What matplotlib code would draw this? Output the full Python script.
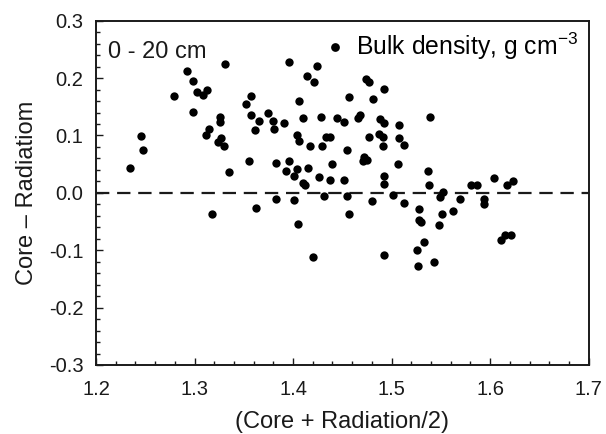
import matplotlib
matplotlib.use("Agg")
import matplotlib.pyplot as plt
from matplotlib.ticker import MultipleLocator, FormatStrFormatter

plt.rcParams['font.family'] = ['Liberation Sans', 'DejaVu Sans']
plt.rcParams['mathtext.fontset'] = 'custom'
plt.rcParams['mathtext.rm'] = 'Liberation Sans'
plt.rcParams['mathtext.it'] = 'Liberation Sans:italic'
plt.rcParams['axes.unicode_minus'] = False

# Mean of core and radiation bulk density (x) and their difference (y)
mean_density = [
    1.2346, 1.2455, 1.2476, 1.2791, 1.2927, 1.2981, 1.3025, 1.3087, 1.3130, 1.2981,
    1.3307, 1.3260, 1.3256, 1.3148, 1.3120, 1.3270, 1.3235, 1.3303, 1.3347, 1.3551,
    1.3527, 1.3578, 1.3575, 1.3653, 1.3612, 1.3744, 1.3799, 1.3802, 1.3911, 1.3958,
    1.4060, 1.4101, 1.4040, 1.4064, 1.4169, 1.4146, 1.4213, 1.4243, 1.4281, 1.4298,
    1.4339, 1.4373, 1.4444, 1.4518, 1.4546, 1.4569, 1.3823, 1.3958, 1.3925, 1.4044,
    1.4009, 1.4152, 1.4105, 1.4125, 1.4261, 1.4390, 1.4376, 1.4515, 1.4312, 1.4543,
    1.3823, 1.4012, 1.3178, 1.3622, 1.4054, 1.4200, 1.4563, 1.4739, 1.4767, 1.4926,
    1.4808, 1.4655, 1.4675, 1.4885, 1.4926, 1.5078, 1.5391, 1.4773, 1.4875, 1.4909,
    1.4909, 1.5078, 1.5129, 1.4706, 1.4722, 1.4749, 1.5062, 1.4919, 1.4919, 1.5367,
    1.5377, 1.5809, 1.5870, 1.6040, 1.6175, 1.6233, 1.4800, 1.5017, 1.5129, 1.4926,
    1.5282, 1.5276, 1.5299, 1.5476, 1.5513, 1.5622, 1.5333, 1.5259, 1.5266, 1.5435,
    1.5526, 1.5496, 1.5689, 1.5938, 1.5938, 1.6114, 1.6148, 1.6209,
]
diff_density = [
    0.043, 0.0997, 0.075, 0.168, 0.212, 0.195, 0.175, 0.170, 0.179, 0.141,
    0.224, 0.133, 0.123, 0.112, 0.101, 0.095, 0.088, 0.082, 0.037, 0.055,
    0.154, 0.168, 0.135, 0.126, 0.109, 0.140, 0.126, 0.112, 0.121, 0.228,
    0.160, 0.130, 0.101, 0.091, 0.081, 0.203, 0.193, 0.221, 0.132, 0.081,
    0.098, 0.097, 0.130, 0.123, 0.074, 0.167, 0.052, 0.055, 0.038, 0.041,
    0.029, 0.044, 0.017, 0.013, 0.027, 0.051, 0.023, 0.023, -0.005, -0.005,
    -0.0105, -0.012, -0.036, -0.027, -0.054, -0.111, -0.036, 0.198, 0.193, 0.181,
    0.163, 0.130, 0.136, 0.128, 0.121, 0.119, 0.133, 0.097, 0.103, 0.097,
    0.081, 0.095, 0.084, 0.056, 0.062, 0.058, 0.051, 0.029, 0.016, 0.038,
    0.014, 0.0145, 0.0145, 0.0255, 0.013, 0.0215, -0.015, -0.003, -0.0175, -0.108,
    -0.029, -0.047, -0.051, -0.056, -0.037, -0.032, -0.085, -0.100, -0.127, -0.121,
    0.002, -0.008, -0.0105, -0.0105, -0.019, -0.083, -0.073, -0.073,
]

x_ticks = [1.2, 1.3, 1.4, 1.5, 1.6, 1.7]
y_ticks = [-0.3, -0.2, -0.1, 0.0, 0.1, 0.2, 0.3]
series_label = 'Bulk density, g cm$^{-3}$'
depth_label = '0 - 20 cm'

fig = plt.figure(figsize=(6.06, 4.34), dpi=100)
ax = fig.add_axes([96/606, 1-365/434, (588.7-96)/606, (365-20.7)/434])

ax.axhline(0, color='#1a1a1a', lw=1.6, dashes=(6, 3.5), zorder=1)
ax.plot(mean_density, diff_density, 'o', color='black', ms=6.0, mew=0,
        label=series_label, zorder=3)

ax.set_xlim(x_ticks[0], x_ticks[-1])
ax.set_ylim(y_ticks[0], y_ticks[-1])
ax.set_xticks(x_ticks)
ax.set_yticks(y_ticks)
ax.xaxis.set_minor_locator(MultipleLocator(0.02))
ax.yaxis.set_minor_locator(MultipleLocator(0.02))
ax.xaxis.set_major_formatter(FormatStrFormatter('%.1f'))
ax.yaxis.set_major_formatter(FormatStrFormatter('%.1f'))
ax.tick_params(which='both', direction='in', top=False, right=False,
               labelsize=14.5, colors='#1a1a1a', width=1.0)
ax.tick_params(which='major', length=5)
ax.tick_params(axis='x', which='major', pad=10.5)
ax.tick_params(axis='y', which='major', pad=9)
ax.tick_params(which='minor', length=3)
for s in ax.spines.values():
    s.set_linewidth(1.4)
    s.set_color('#1a1a1a')

ax.set_xlabel('(Core + Radiation/2)', fontsize=17, labelpad=9, color='#1a1a1a')
ax.set_ylabel('Core \u2013 Radiatiom', fontsize=17, labelpad=8, color='#1a1a1a')

ax.text(0.024, 0.892, depth_label, transform=ax.transAxes, fontsize=17,
        va='baseline', ha='left', color='#1a1a1a')
ax.legend(loc='upper right', frameon=False, fontsize=17.8, handletextpad=0.36,
          handlelength=1.0, borderaxespad=0.2, borderpad=0.22, markerscale=1.05)

fig.savefig('out.png', dpi=100)
